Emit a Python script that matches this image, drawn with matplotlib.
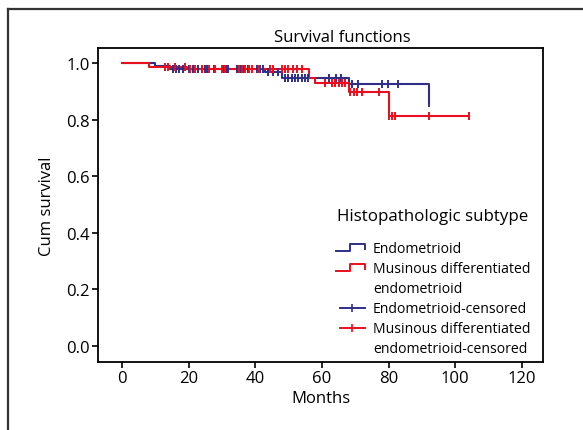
import numpy as np
import matplotlib
matplotlib.use("Agg")
import matplotlib.pyplot as plt
from matplotlib.lines import Line2D
from matplotlib.legend_handler import HandlerBase

plt.rcParams['font.family'] = ['Open Sans', 'DejaVu Sans']

# ---- data ----
endo_times = [0, 10, 14.5, 43, 48, 68, 92]
endo_surv = [1.0, 0.988, 0.979, 0.969, 0.948, 0.925, 0.857]
endo_censored = [15.2, 16.2, 17.2, 18.2, 20.2, 21.2, 22.9, 23.9, 24.9, 25.6, 27.6,
                 30.2, 31.2, 31.9, 34.6, 35.6, 36.6, 37.9, 40.4, 41.4, 42.4,
                 43.9, 45.4, 46.9,
                 48.9, 49.9, 50.9, 51.9, 52.9, 53.9, 54.9, 55.9, 62.1, 64.1, 65.7,
                 68.9, 70.9, 77.9, 79.9, 82.9, 92]

muc_times = [0, 8, 19.5, 56, 58, 68, 80, 104]
muc_surv = [1.0, 0.987, 0.977, 0.948, 0.929, 0.899, 0.814, 0.814]
muc_censored = [12.9, 13.9, 16.0, 19.0,
                 20.5, 22, 24, 26, 28, 30, 31, 35, 36, 37, 38, 39, 41,
                 44.4, 45.4, 47.9, 48.9, 49.9, 51.4, 52.4, 53.9,
                 61, 63, 64, 65, 66, 67,
                 68.5, 69.5, 70.5, 72, 77,
                 80.2, 81, 82, 92, 104]

x_ticks = [0, 20, 40, 60, 80, 100, 120]
y_ticks = [0.0, 0.2, 0.4, 0.6, 0.8, 1.0]

blue = '#302f88'
red = '#e8101f'


def surv_at(times, surv, t):
    idx = np.searchsorted(np.asarray(times), np.asarray(t), side='right') - 1
    return np.asarray(surv)[idx]


fig = plt.figure(figsize=(5.83, 4.31), dpi=100)
ax = fig.add_axes([98 / 583, 1 - 363 / 431, (543 - 98) / 583, (363 - 49) / 431])

# outer frame (partial)
fy = 1 - 9.5 / 431
fx = 7.5 / 583
fig.add_artist(Line2D([fx, 1.0], [fy, fy], transform=fig.transFigure, color='#333333', lw=1.6))
fig.add_artist(Line2D([fx, fx], [0, fy], transform=fig.transFigure, color='#333333', lw=1.6))

l1, = ax.step(endo_times, endo_surv, where='post', color=blue, lw=1.5)
l2, = ax.step(muc_times, muc_surv, where='post', color=red, lw=1.5)
ax.plot(endo_censored, surv_at(endo_times, endo_surv, endo_censored), ls='none',
        marker='|', ms=6, mew=1.4, color=blue)
ax.plot(muc_censored, surv_at(muc_times, muc_surv, muc_censored), ls='none',
        marker='|', ms=6, mew=1.4, color=red)

ax.set_xlim(-7.2, 126.3)
ax.set_ylim(-0.057, 1.053)
ax.set_xticks(x_ticks)
ax.set_yticks(y_ticks)
ax.set_yticklabels([f'{v:.1f}' for v in y_ticks])
ax.tick_params(direction='out', length=4, width=1.2, labelsize=12, colors='black', pad=2)
for s in ax.spines.values():
    s.set_linewidth(1.3)
ax.set_title('Survival functions', fontsize=12, pad=5, x=(342 - 98) / 445)
ax.set_xlabel('Months', fontsize=12, labelpad=3)
ax.set_ylabel('Cum survival', fontsize=12, labelpad=8)


class StepHandler(HandlerBase):
    def create_artists(self, legend, orig_handle, xdescent, ydescent, width, height, fontsize, trans):
        x0, y0 = -xdescent, -ydescent
        xs = [x0, x0 + 0.5 * width, x0 + 0.5 * width, x0 + width, x0 + width]
        ys = [y0 + 0.1 * height, y0 + 0.1 * height, y0 + 0.8 * height, y0 + 0.8 * height, y0 + 0.35 * height]
        ln = Line2D(xs, ys, color=orig_handle.get_color(), lw=1.4)
        ln.set_transform(trans)
        return [ln]


class CensHandler(HandlerBase):
    def create_artists(self, legend, orig_handle, xdescent, ydescent, width, height, fontsize, trans):
        x0, y0 = -xdescent, -ydescent
        ym = y0 + 0.4 * height
        ln = Line2D([x0 + 0.15 * width, x0 + width], [ym, ym], color=orig_handle.get_color(), lw=1.4)
        mk = Line2D([x0 + 0.57 * width], [ym], marker='|', ms=6, mew=1.2, color=orig_handle.get_color(), ls='none')
        ln.set_transform(trans)
        mk.set_transform(trans)
        return [ln, mk]


class BlankHandler(HandlerBase):
    def create_artists(self, legend, orig_handle, xdescent, ydescent, width, height, fontsize, trans):
        ln = Line2D([], [], color='none')
        ln.set_transform(trans)
        return [ln]


h_blue_c = Line2D([], [], color=blue)
h_red_c = Line2D([], [], color=red)
blank1 = Line2D([], [], color='none')
blank2 = Line2D([], [], color='none')

leg = ax.legend([l1, l2, blank1, h_blue_c, h_red_c, blank2],
                ['Endometrioid', 'Musinous differentiated', 'endometrioid',
                 'Endometrioid-censored', 'Musinous differentiated', 'endometrioid-censored'],
                handler_map={l1: StepHandler(), l2: StepHandler(),
                             h_blue_c: CensHandler(), h_red_c: CensHandler(),
                             blank1: BlankHandler(), blank2: BlankHandler()},
                title='Histopathologic subtype', title_fontsize=12.2, fontsize=10.1,
                frameon=False, loc='lower right', bbox_to_anchor=(0.995, -0.015),
                handlelength=2.1, handletextpad=0.55, labelspacing=0.36, borderpad=0.25)
leg._legend_box.sep = 12

fig.savefig('out.png', dpi=100)
